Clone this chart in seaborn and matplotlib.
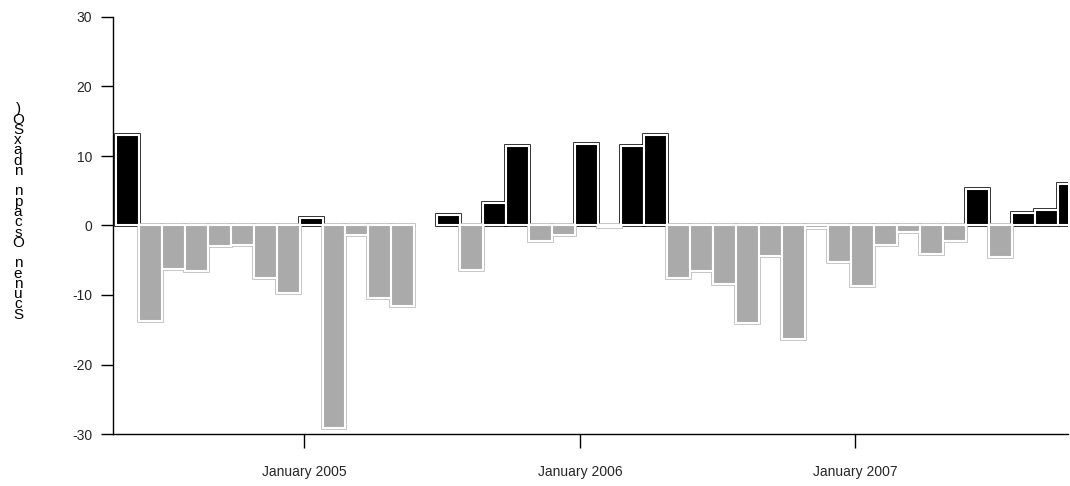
import numpy as np
import pandas as pd
import matplotlib
matplotlib.use("Agg")
import matplotlib.pyplot as plt
import seaborn as sns

# ---- data (monthly, May 2004 .. Oct 2007); NaN = no bar ----
months = pd.date_range("2004-05-01", "2007-10-01", freq="MS")
values = [13.0, -13.8, -6.2, -6.6, -3.0, -2.8, -7.5, -9.7,
          1.1, -29.1, -1.3, -10.5, -11.6, np.nan, 1.5, -6.4,
          3.3, 11.4, -2.2, -1.3, 11.7, -0.2, 11.4, 13.0,
          -7.5, -6.6, -8.4, -14.0, -4.4, -16.4, -0.4, -5.3,
          -8.7, -2.8, -0.9, -4.1, -2.3, 5.3, -4.6, 1.8,
          2.2, 6.0]
tick_labels = ["January 2005", "January 2006", "January 2007"]
ylabel_chars = [")", "O", "S", "x", "a", "d", "n", " ", "n", "p", "a", "c", "s", "O",
                " ", "n", "e", "n", "u", "c", "S"]

df = pd.DataFrame({"idx": np.arange(len(values)), "value": values})
df["sign"] = np.where(df["value"] >= 0, "pos", "neg")

sns.set_theme(style="white")
plt.rcParams["font.family"] = ["Liberation Sans", "DejaVu Sans"]

fig = plt.figure(figsize=(10.70, 4.86), dpi=100)
ax = fig.add_axes([113 / 1070, 52 / 486, (1068 - 113) / 1070, (434 - 17) / 486])

fill_pal = {"pos": "#000000", "neg": "#aaaaaa"}
edge_pal = {"pos": "#000000", "neg": "#b8b8b8"}

# outer outline layer
sns.barplot(data=df, x="idx", y="value", hue="sign", palette=edge_pal,
            dodge=False, width=1.0, fill=False, linewidth=2.6,
            legend=False, ax=ax, zorder=1)
# filled bars with white inner border
sns.barplot(data=df, x="idx", y="value", hue="sign", palette=fill_pal,
            dodge=False, width=1.0, edgecolor="white", linewidth=1.5,
            saturation=1, legend=False, ax=ax, zorder=2)

ax.set_ylim(-30, 30)
ax.set_yticks([-30, -20, -10, 0, 10, 20, 30])
ax.set_yticklabels(["-30", "-20", "-10", "0", "10", "20", "30"])
ax.set_xlim(-0.62, 40.95)

jan_idx = [i for i, m in enumerate(months) if m.month == 1]
ax.set_xticks([i - 0.3 for i in jan_idx])
ax.set_xticklabels(tick_labels)

for s in ["top", "right"]:
    ax.spines[s].set_visible(False)
for s in ["left", "bottom"]:
    ax.spines[s].set_color("black")
    ax.spines[s].set_linewidth(1.0)
    ax.spines[s].set_zorder(3)

ax.tick_params(axis="y", direction="out", length=9, width=1, color="black",
               labelsize=10, pad=6, left=True)
ax.tick_params(axis="x", direction="out", length=10, width=1, color="black",
               labelsize=10, pad=12, bottom=True)
ax.set_xlabel("")
ax.set_ylabel("")
ax.grid(False)

# garbled stacked y-axis label as in reference
fig.text(18 / 1070, 1 - 212 / 486, "\n".join(ylabel_chars), ha="center", va="center",
         fontsize=11, linespacing=0.66, color="black")

fig.savefig("out.png", dpi=100)
